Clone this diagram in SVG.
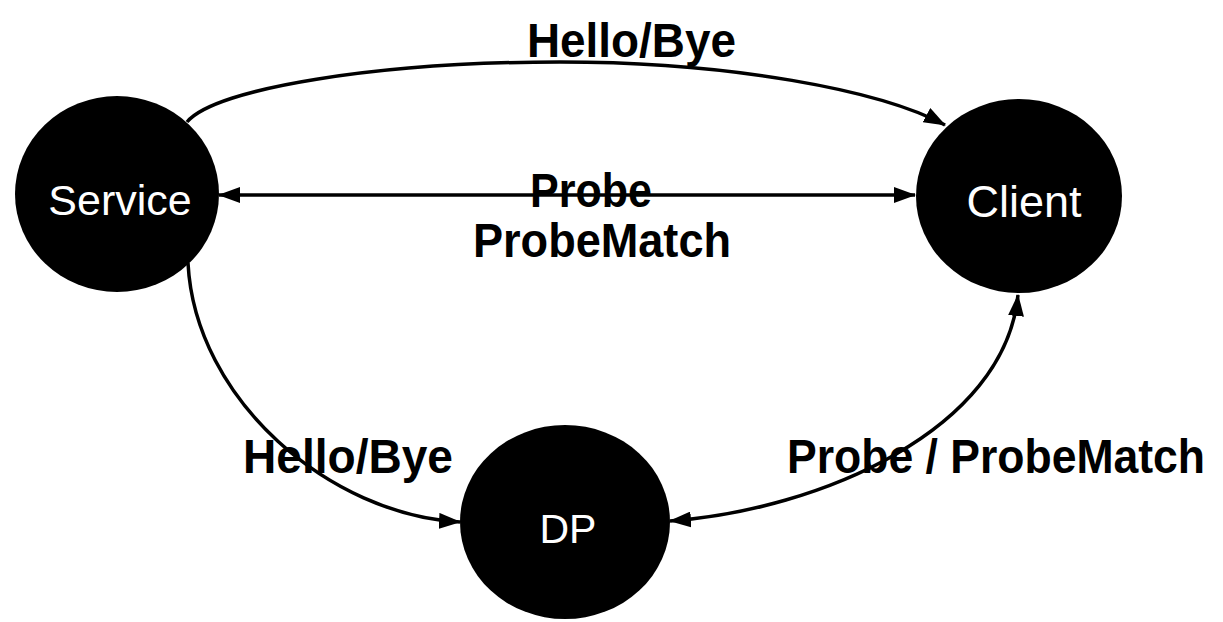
<svg xmlns="http://www.w3.org/2000/svg" width="1223" height="622" viewBox="0 0 1223 622">
<style>
.node{fill:#000;}
.nlabel{fill:#fff;font-family:"Liberation Sans",Arial,sans-serif;text-anchor:middle;}
.edge{fill:none;stroke:#000;stroke-width:3.5;}
.elabel{fill:#000;font-family:"Liberation Sans",Arial,sans-serif;font-weight:bold;font-size:48px;}
</style>
<defs>
<marker id="arr" viewBox="0 0 22 16" refX="21" refY="8" markerUnits="userSpaceOnUse" markerWidth="22" markerHeight="16" orient="auto-start-reverse">
<path d="M0,0 L22,8 L0,16 z" fill="#000"/>
</marker>
</defs>
<g id="connectors">
<path class="edge" d="M187 122 C215 88 380 62 560 62 C730 62 880 90 945 125" marker-end="url(#arr)"/>
<path class="edge" d="M219 195 L915 195" marker-start="url(#arr)" marker-end="url(#arr)"/>
<path class="edge" d="M188 263 C195 400 330 515 460 522" marker-end="url(#arr)"/>
<path class="edge" d="M670 521 C820 510 1005 430 1018 295" marker-start="url(#arr)" marker-end="url(#arr)"/>
</g>
<g id="edge-labels">
<text class="elabel" x="527" y="57" textLength="209" lengthAdjust="spacingAndGlyphs">Hello/Bye</text>
<text class="elabel" x="530" y="207" textLength="122" lengthAdjust="spacingAndGlyphs">Probe</text>
<text class="elabel" x="473" y="257" textLength="258" lengthAdjust="spacingAndGlyphs">ProbeMatch</text>
<text class="elabel" x="243" y="473" textLength="210" lengthAdjust="spacingAndGlyphs">Hello/Bye</text>
<text class="elabel" x="787" y="473" textLength="418" lengthAdjust="spacingAndGlyphs">Probe / ProbeMatch</text>
</g>
<g id="node-service">
<ellipse class="node" cx="117" cy="194" rx="102" ry="98"/>
<text class="nlabel" x="120" y="215" font-size="43">Service</text>
</g>
<g id="node-client">
<ellipse class="node" cx="1019" cy="196" rx="103" ry="97"/>
<text class="nlabel" x="1024" y="217" font-size="45">Client</text>
</g>
<g id="node-dp">
<ellipse class="node" cx="565" cy="522" rx="105" ry="97"/>
<text class="nlabel" x="568" y="543" font-size="41">DP</text>
</g>
</svg>
